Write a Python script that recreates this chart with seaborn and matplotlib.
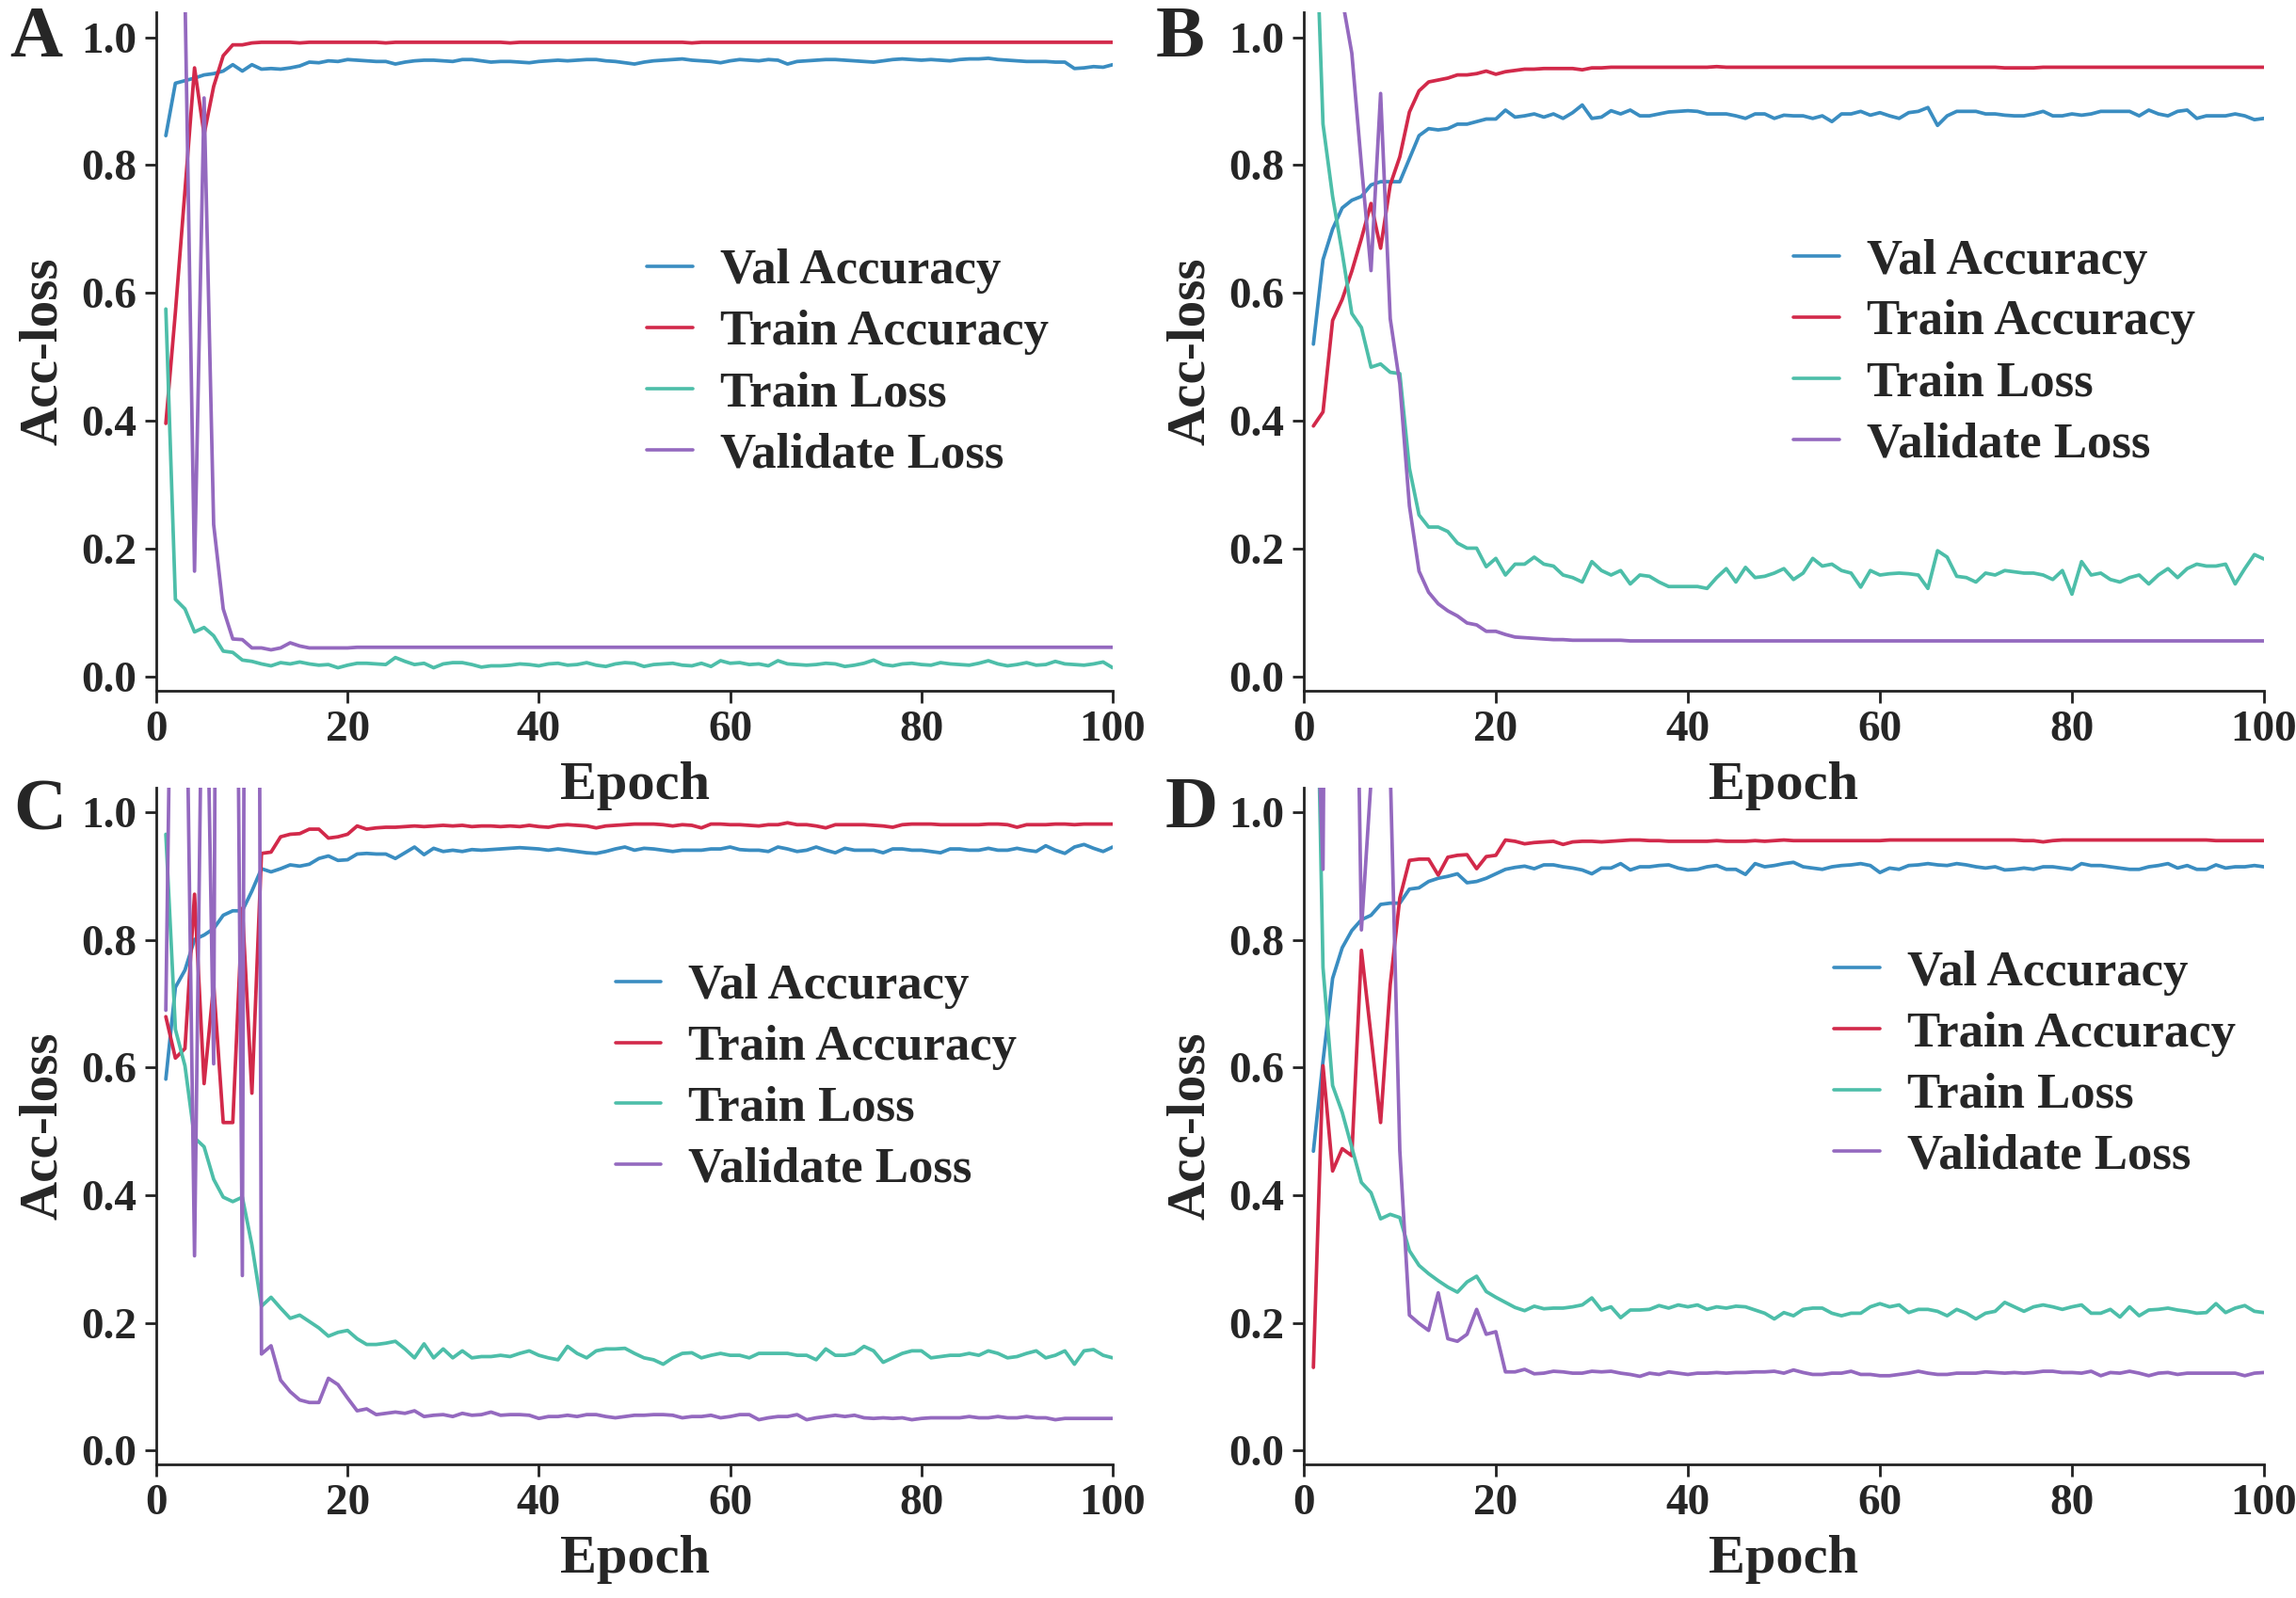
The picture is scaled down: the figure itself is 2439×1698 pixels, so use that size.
import numpy as np
import pandas as pd
import matplotlib
matplotlib.use("Agg")
import matplotlib.pyplot as plt
import seaborn as sns

epochs = list(range(1, 101))
series_names = ["Val Accuracy", "Train Accuracy", "Train Loss", "Validate Loss"]
panel_labels = ["A", "B", "C", "D"]
x_ticks = [0, 20, 40, 60, 80, 100]
y_ticks = [0.0, 0.2, 0.4, 0.6, 0.8, 1.0]

# ---------------- Panel A ----------------
A_val_acc = [0.846, 0.928, 0.932, 0.936, 0.941, 0.943, 0.947, 0.957, 0.947, 0.957,
             0.950, 0.951, 0.950, 0.952, 0.955, 0.961, 0.960, 0.963, 0.962, 0.965,
             0.964, 0.963, 0.962, 0.962, 0.958, 0.961, 0.963, 0.964, 0.964, 0.963,
             0.962, 0.965, 0.965, 0.963, 0.961, 0.962, 0.962, 0.961, 0.960, 0.962,
             0.963, 0.964, 0.963, 0.964, 0.965, 0.965, 0.963, 0.962, 0.960, 0.958,
             0.961, 0.963, 0.964, 0.965, 0.966, 0.964, 0.963, 0.962, 0.960, 0.963,
             0.965, 0.964, 0.963, 0.965, 0.964, 0.958, 0.962, 0.963, 0.964, 0.965,
             0.965, 0.964, 0.963, 0.962, 0.961, 0.963, 0.965, 0.966, 0.965, 0.964,
             0.965, 0.964, 0.963, 0.965, 0.966, 0.966, 0.967, 0.965, 0.964, 0.963,
             0.962, 0.962, 0.962, 0.961, 0.961, 0.951, 0.952, 0.954, 0.953, 0.957]
A_train_acc = [0.396, 0.570, 0.760, 0.952, 0.848, 0.923, 0.971, 0.988, 0.988, 0.991,
               0.992, 0.992, 0.992, 0.992, 0.991, 0.992, 0.992, 0.992, 0.992, 0.992,
               0.992, 0.992, 0.992, 0.991, 0.992, 0.992, 0.992, 0.992, 0.992, 0.992,
               0.992, 0.992, 0.992, 0.992, 0.992, 0.992, 0.991, 0.992, 0.992, 0.992,
               0.992, 0.992, 0.992, 0.992, 0.992, 0.992, 0.992, 0.992, 0.992, 0.992,
               0.992, 0.992, 0.992, 0.992, 0.992, 0.991, 0.992, 0.992, 0.992, 0.992,
               0.992, 0.992, 0.992, 0.992, 0.992, 0.992, 0.992, 0.992, 0.992, 0.992,
               0.992, 0.992, 0.992, 0.992, 0.992, 0.992, 0.992, 0.992, 0.992, 0.992,
               0.992, 0.992, 0.992, 0.992, 0.992, 0.992, 0.992, 0.992, 0.992, 0.992,
               0.992, 0.992, 0.992, 0.992, 0.992, 0.992, 0.992, 0.992, 0.992, 0.992]
A_train_loss = [0.575, 0.121, 0.106, 0.070, 0.077, 0.064, 0.040, 0.038, 0.026, 0.024,
                0.020, 0.017, 0.022, 0.020, 0.023, 0.020, 0.018, 0.019, 0.014, 0.018,
                0.021, 0.021, 0.020, 0.019, 0.030, 0.024, 0.019, 0.021, 0.014, 0.020,
                0.022, 0.022, 0.019, 0.015, 0.017, 0.017, 0.018, 0.020, 0.019, 0.017,
                0.020, 0.021, 0.018, 0.019, 0.022, 0.018, 0.016, 0.020, 0.022, 0.021,
                0.016, 0.019, 0.020, 0.021, 0.018, 0.017, 0.021, 0.016, 0.025, 0.021,
                0.022, 0.019, 0.020, 0.017, 0.025, 0.020, 0.019, 0.018, 0.019, 0.021,
                0.020, 0.016, 0.018, 0.021, 0.026, 0.019, 0.017, 0.020, 0.021, 0.019,
                0.018, 0.022, 0.020, 0.019, 0.018, 0.021, 0.025, 0.020, 0.017, 0.019,
                0.022, 0.018, 0.019, 0.024, 0.020, 0.019, 0.018, 0.020, 0.023, 0.014]
A_val_loss = [1.350, 1.200, 1.070, 0.165, 0.905, 0.238, 0.106, 0.059, 0.058, 0.045,
              0.045, 0.042, 0.045, 0.053, 0.048, 0.045, 0.045, 0.045, 0.045, 0.045,
              0.046, 0.046, 0.046, 0.046, 0.046, 0.046, 0.046, 0.046, 0.046, 0.046,
              0.046, 0.046, 0.046, 0.046, 0.046, 0.046, 0.046, 0.046, 0.046, 0.046,
              0.046, 0.046, 0.046, 0.046, 0.046, 0.046, 0.046, 0.046, 0.046, 0.046,
              0.046, 0.046, 0.046, 0.046, 0.046, 0.046, 0.046, 0.046, 0.046, 0.046,
              0.046, 0.046, 0.046, 0.046, 0.046, 0.046, 0.046, 0.046, 0.046, 0.046,
              0.046, 0.046, 0.046, 0.046, 0.046, 0.046, 0.046, 0.046, 0.046, 0.046,
              0.046, 0.046, 0.046, 0.046, 0.046, 0.046, 0.046, 0.046, 0.046, 0.046,
              0.046, 0.046, 0.046, 0.046, 0.046, 0.046, 0.046, 0.046, 0.046, 0.046]

# ---------------- Panel B ----------------
B_val_acc = [0.520, 0.652, 0.700, 0.733, 0.745, 0.751, 0.769, 0.774, 0.774, 0.774,
             0.810, 0.846, 0.857, 0.855, 0.857, 0.864, 0.864, 0.868, 0.872, 0.872,
             0.886, 0.875, 0.877, 0.880, 0.875, 0.880, 0.873, 0.882, 0.894, 0.873,
             0.875, 0.885, 0.880, 0.886, 0.877, 0.877, 0.880, 0.883, 0.884, 0.885,
             0.884, 0.880, 0.880, 0.880, 0.877, 0.873, 0.880, 0.880, 0.873, 0.878,
             0.877, 0.877, 0.873, 0.877, 0.868, 0.880, 0.880, 0.884, 0.878, 0.882,
             0.877, 0.873, 0.882, 0.884, 0.890, 0.862, 0.877, 0.884, 0.884, 0.884,
             0.880, 0.880, 0.878, 0.877, 0.877, 0.880, 0.884, 0.877, 0.877, 0.880,
             0.878, 0.880, 0.884, 0.884, 0.884, 0.884, 0.877, 0.886, 0.880, 0.877,
             0.884, 0.886, 0.873, 0.877, 0.877, 0.877, 0.880, 0.877, 0.871, 0.873]
B_train_acc = [0.392, 0.414, 0.557, 0.590, 0.634, 0.685, 0.740, 0.670, 0.769, 0.813,
               0.883, 0.916, 0.930, 0.933, 0.936, 0.941, 0.941, 0.943, 0.947, 0.942,
               0.946, 0.948, 0.950, 0.950, 0.951, 0.951, 0.951, 0.951, 0.949, 0.952,
               0.952, 0.953, 0.953, 0.953, 0.953, 0.953, 0.953, 0.953, 0.953, 0.953,
               0.953, 0.953, 0.954, 0.953, 0.953, 0.953, 0.953, 0.953, 0.953, 0.953,
               0.953, 0.953, 0.953, 0.953, 0.953, 0.953, 0.953, 0.953, 0.953, 0.953,
               0.953, 0.953, 0.953, 0.953, 0.953, 0.953, 0.953, 0.953, 0.953, 0.953,
               0.953, 0.953, 0.952, 0.952, 0.952, 0.952, 0.953, 0.953, 0.953, 0.953,
               0.953, 0.953, 0.953, 0.953, 0.953, 0.953, 0.953, 0.953, 0.953, 0.953,
               0.953, 0.953, 0.953, 0.953, 0.953, 0.953, 0.953, 0.953, 0.953, 0.953]
B_train_loss = [1.300, 0.864, 0.751, 0.663, 0.568, 0.546, 0.484, 0.489, 0.476, 0.474,
                0.326, 0.253, 0.234, 0.234, 0.227, 0.209, 0.201, 0.201, 0.172, 0.185,
                0.159, 0.176, 0.176, 0.187, 0.176, 0.173, 0.159, 0.155, 0.148, 0.180,
                0.166, 0.159, 0.166, 0.145, 0.159, 0.157, 0.148, 0.141, 0.141, 0.141,
                0.141, 0.138, 0.155, 0.169, 0.148, 0.171, 0.155, 0.157, 0.162, 0.169,
                0.152, 0.162, 0.185, 0.173, 0.176, 0.166, 0.162, 0.140, 0.166, 0.159,
                0.161, 0.162, 0.161, 0.159, 0.138, 0.197, 0.187, 0.157, 0.155, 0.148,
                0.162, 0.159, 0.166, 0.164, 0.162, 0.162, 0.159, 0.152, 0.166, 0.129,
                0.180, 0.159, 0.162, 0.152, 0.148, 0.155, 0.159, 0.145, 0.159, 0.169,
                0.155, 0.169, 0.176, 0.173, 0.173, 0.176, 0.145, 0.169, 0.191, 0.184]
B_val_loss = [1.600, 1.400, 1.200, 1.060, 0.975, 0.800, 0.635, 0.912, 0.560, 0.458,
              0.267, 0.165, 0.132, 0.114, 0.103, 0.095, 0.084, 0.081, 0.071, 0.071,
              0.066, 0.062, 0.061, 0.060, 0.059, 0.058, 0.058, 0.057, 0.057, 0.057,
              0.057, 0.057, 0.057, 0.056, 0.056, 0.056, 0.056, 0.056, 0.056, 0.056,
              0.056, 0.056, 0.056, 0.056, 0.056, 0.056, 0.056, 0.056, 0.056, 0.056,
              0.056, 0.056, 0.056, 0.056, 0.056, 0.056, 0.056, 0.056, 0.056, 0.056,
              0.056, 0.056, 0.056, 0.056, 0.056, 0.056, 0.056, 0.056, 0.056, 0.056,
              0.056, 0.056, 0.056, 0.056, 0.056, 0.056, 0.056, 0.056, 0.056, 0.056,
              0.056, 0.056, 0.056, 0.056, 0.056, 0.056, 0.056, 0.056, 0.056, 0.056,
              0.056, 0.056, 0.056, 0.056, 0.056, 0.056, 0.056, 0.056, 0.056, 0.056]

# ---------------- Panel C ----------------
C_val_acc = [0.582, 0.726, 0.753, 0.801, 0.808, 0.818, 0.839, 0.846, 0.846, 0.877,
             0.912, 0.907, 0.912, 0.918, 0.916, 0.919, 0.928, 0.932, 0.925, 0.926,
             0.935, 0.936, 0.935, 0.935, 0.928, 0.937, 0.946, 0.934, 0.944, 0.939,
             0.941, 0.939, 0.942, 0.941, 0.942, 0.943, 0.944, 0.945, 0.944, 0.943,
             0.941, 0.943, 0.941, 0.939, 0.937, 0.936, 0.939, 0.943, 0.946, 0.941,
             0.944, 0.943, 0.941, 0.939, 0.941, 0.941, 0.941, 0.943, 0.943, 0.946,
             0.942, 0.941, 0.941, 0.939, 0.946, 0.943, 0.939, 0.941, 0.946, 0.941,
             0.937, 0.944, 0.941, 0.941, 0.941, 0.937, 0.943, 0.943, 0.941, 0.941,
             0.939, 0.937, 0.943, 0.943, 0.941, 0.941, 0.944, 0.941, 0.941, 0.944,
             0.941, 0.939, 0.948, 0.941, 0.936, 0.946, 0.950, 0.944, 0.939, 0.946]
C_train_acc = [0.680, 0.615, 0.630, 0.872, 0.575, 0.730, 0.514, 0.514, 0.850, 0.560,
               0.936, 0.938, 0.962, 0.966, 0.967, 0.974, 0.974, 0.960, 0.962, 0.966,
               0.979, 0.974, 0.976, 0.977, 0.977, 0.978, 0.979, 0.978, 0.979, 0.980,
               0.979, 0.980, 0.978, 0.979, 0.979, 0.978, 0.979, 0.978, 0.980, 0.978,
               0.977, 0.980, 0.981, 0.980, 0.979, 0.976, 0.979, 0.980, 0.981, 0.982,
               0.982, 0.982, 0.981, 0.979, 0.981, 0.980, 0.976, 0.982, 0.982, 0.981,
               0.981, 0.980, 0.979, 0.981, 0.981, 0.984, 0.981, 0.981, 0.979, 0.976,
               0.981, 0.981, 0.981, 0.981, 0.980, 0.979, 0.977, 0.981, 0.982, 0.982,
               0.982, 0.981, 0.981, 0.981, 0.981, 0.981, 0.982, 0.982, 0.981, 0.977,
               0.981, 0.981, 0.981, 0.982, 0.982, 0.981, 0.982, 0.982, 0.982, 0.982]
C_train_loss = [0.966, 0.660, 0.603, 0.490, 0.476, 0.425, 0.397, 0.390, 0.397, 0.322,
                0.226, 0.240, 0.223, 0.207, 0.212, 0.202, 0.192, 0.179, 0.185, 0.188,
                0.175, 0.166, 0.166, 0.168, 0.171, 0.159, 0.145, 0.167, 0.145, 0.159,
                0.145, 0.156, 0.145, 0.147, 0.147, 0.149, 0.147, 0.152, 0.156, 0.149,
                0.145, 0.142, 0.163, 0.152, 0.145, 0.156, 0.159, 0.159, 0.160, 0.152,
                0.145, 0.142, 0.135, 0.145, 0.152, 0.153, 0.145, 0.149, 0.152, 0.149,
                0.149, 0.145, 0.152, 0.152, 0.152, 0.152, 0.149, 0.149, 0.142, 0.159,
                0.149, 0.149, 0.152, 0.163, 0.156, 0.138, 0.145, 0.152, 0.156, 0.156,
                0.145, 0.147, 0.149, 0.149, 0.152, 0.149, 0.156, 0.152, 0.145, 0.147,
                0.152, 0.156, 0.145, 0.149, 0.156, 0.135, 0.156, 0.158, 0.149, 0.145]
C_val_loss = [0.690, 1.800, 1.400, 0.305, 1.500, 0.606, 4.000, 2.200, 0.274, 5.000,
              0.151, 0.164, 0.110, 0.092, 0.079, 0.075, 0.075, 0.113, 0.103, 0.082,
              0.062, 0.065, 0.056, 0.058, 0.060, 0.058, 0.062, 0.053, 0.055, 0.056,
              0.053, 0.058, 0.055, 0.056, 0.060, 0.055, 0.056, 0.056, 0.055, 0.050,
              0.053, 0.053, 0.055, 0.053, 0.056, 0.056, 0.053, 0.051, 0.053, 0.055,
              0.055, 0.056, 0.056, 0.055, 0.051, 0.053, 0.053, 0.055, 0.051, 0.053,
              0.056, 0.056, 0.048, 0.051, 0.053, 0.053, 0.056, 0.048, 0.051, 0.053,
              0.055, 0.053, 0.055, 0.051, 0.050, 0.051, 0.050, 0.051, 0.048, 0.050,
              0.051, 0.051, 0.051, 0.051, 0.053, 0.051, 0.051, 0.053, 0.051, 0.051,
              0.053, 0.051, 0.051, 0.048, 0.050, 0.050, 0.050, 0.050, 0.050, 0.050]

# ---------------- Panel D ----------------
D_val_acc = [0.469, 0.610, 0.740, 0.788, 0.815, 0.832, 0.839, 0.856, 0.858, 0.858,
             0.880, 0.882, 0.892, 0.897, 0.900, 0.904, 0.890, 0.892, 0.897, 0.904,
             0.911, 0.914, 0.916, 0.912, 0.918, 0.918, 0.915, 0.913, 0.910, 0.904,
             0.913, 0.913, 0.920, 0.910, 0.915, 0.915, 0.917, 0.918, 0.913, 0.910,
             0.911, 0.915, 0.917, 0.911, 0.911, 0.903, 0.920, 0.915, 0.917, 0.920,
             0.922, 0.915, 0.913, 0.911, 0.915, 0.917, 0.918, 0.920, 0.917, 0.906,
             0.913, 0.911, 0.917, 0.918, 0.920, 0.918, 0.917, 0.920, 0.918, 0.915,
             0.913, 0.915, 0.910, 0.911, 0.913, 0.911, 0.915, 0.915, 0.913, 0.911,
             0.920, 0.917, 0.917, 0.915, 0.913, 0.911, 0.911, 0.915, 0.917, 0.920,
             0.913, 0.917, 0.911, 0.911, 0.918, 0.913, 0.915, 0.915, 0.917, 0.915]
D_train_acc = [0.130, 0.603, 0.438, 0.473, 0.462, 0.784, 0.650, 0.514, 0.730, 0.866,
               0.925, 0.927, 0.927, 0.902, 0.930, 0.933, 0.934, 0.912, 0.931, 0.933,
               0.957, 0.955, 0.951, 0.953, 0.954, 0.955, 0.950, 0.954, 0.955, 0.955,
               0.954, 0.955, 0.956, 0.957, 0.957, 0.956, 0.956, 0.955, 0.955, 0.955,
               0.955, 0.955, 0.956, 0.955, 0.955, 0.955, 0.956, 0.955, 0.956, 0.957,
               0.956, 0.956, 0.956, 0.956, 0.956, 0.956, 0.956, 0.956, 0.956, 0.956,
               0.957, 0.957, 0.957, 0.957, 0.957, 0.957, 0.957, 0.957, 0.957, 0.957,
               0.957, 0.957, 0.957, 0.957, 0.956, 0.956, 0.954, 0.956, 0.957, 0.957,
               0.957, 0.957, 0.957, 0.957, 0.957, 0.957, 0.957, 0.957, 0.957, 0.957,
               0.957, 0.957, 0.957, 0.957, 0.956, 0.956, 0.956, 0.956, 0.956, 0.956]
D_train_loss = [1.530, 0.757, 0.572, 0.530, 0.475, 0.420, 0.404, 0.363, 0.370, 0.365,
                0.313, 0.290, 0.277, 0.266, 0.256, 0.248, 0.264, 0.273, 0.249, 0.240,
                0.232, 0.224, 0.219, 0.226, 0.222, 0.223, 0.223, 0.225, 0.228, 0.239,
                0.220, 0.225, 0.208, 0.220, 0.220, 0.221, 0.227, 0.223, 0.228, 0.225,
                0.228, 0.221, 0.225, 0.223, 0.226, 0.225, 0.220, 0.215, 0.206, 0.216,
                0.211, 0.221, 0.223, 0.223, 0.215, 0.211, 0.215, 0.215, 0.225, 0.230,
                0.225, 0.228, 0.216, 0.221, 0.221, 0.218, 0.211, 0.221, 0.215, 0.206,
                0.215, 0.218, 0.232, 0.225, 0.218, 0.225, 0.228, 0.225, 0.221, 0.225,
                0.228, 0.215, 0.215, 0.221, 0.209, 0.225, 0.211, 0.220, 0.221, 0.223,
                0.220, 0.218, 0.215, 0.216, 0.230, 0.216, 0.223, 0.227, 0.218, 0.216]
D_val_loss = [1.340, 0.911, 3.000, 2.500, 1.790, 0.816, 1.050, 1.300, 1.070, 0.470,
              0.212, 0.199, 0.188, 0.247, 0.175, 0.171, 0.182, 0.221, 0.182, 0.186,
              0.123, 0.123, 0.127, 0.120, 0.121, 0.124, 0.123, 0.121, 0.121, 0.124,
              0.123, 0.124, 0.121, 0.119, 0.116, 0.121, 0.119, 0.123, 0.121, 0.119,
              0.121, 0.121, 0.122, 0.121, 0.122, 0.122, 0.123, 0.123, 0.124, 0.121,
              0.126, 0.122, 0.119, 0.119, 0.121, 0.121, 0.124, 0.119, 0.119, 0.117,
              0.117, 0.119, 0.121, 0.124, 0.121, 0.119, 0.119, 0.121, 0.121, 0.121,
              0.123, 0.122, 0.121, 0.122, 0.121, 0.122, 0.124, 0.124, 0.122, 0.122,
              0.121, 0.124, 0.117, 0.122, 0.121, 0.124, 0.121, 0.117, 0.121, 0.122,
              0.119, 0.121, 0.121, 0.121, 0.121, 0.121, 0.121, 0.117, 0.121, 0.122]

panels = {
    "A": [A_val_acc, A_train_acc, A_train_loss, A_val_loss],
    "B": [B_val_acc, B_train_acc, B_train_loss, B_val_loss],
    "C": [C_val_acc, C_train_acc, C_train_loss, C_val_loss],
    "D": [D_val_acc, D_train_acc, D_train_loss, D_val_loss],
}

palette = {
    "Val Accuracy": "#3a8dc1",
    "Train Accuracy": "#d2294a",
    "Train Loss": "#4dbea9",
    "Validate Loss": "#9469bf",
}

sns.set_theme(style="ticks")
plt.rcParams["font.family"] = ["Liberation Serif", "DejaVu Serif"]
plt.rcParams["font.weight"] = "bold"
plt.rcParams["axes.labelweight"] = "bold"

W, H = 2439, 1698
fig = plt.figure(figsize=(W / 100, H / 100), dpi=100)

# axes rectangles in pixel coordinates: left, right, top, bottom
rects = {
    "A": (166, 1182, 13, 734),
    "B": (1385, 2405, 13, 734),
    "C": (166, 1182, 837, 1556),
    "D": (1385, 2405, 837, 1556),
}
legend_pos = {"A": (0.513, 0.483), "B": (0.51, 0.498), "C": (0.48, 0.571), "D": (0.552, 0.591)}
letter_pos = {"A": (10, 60), "B": (1228, 60), "C": (14, 881), "D": (1238, 879)}

for key in panel_labels:
    l, r, t, b = rects[key]
    ax = fig.add_axes([l / W, 1 - b / H, (r - l) / W, (b - t) / H])
    ax.patch.set_alpha(0.0)
    rows = []
    for name, vals in zip(series_names, panels[key]):
        for e, v in zip(epochs, vals):
            rows.append((e, v, name))
    df = pd.DataFrame(rows, columns=["Epoch", "value", "series"])
    sns.lineplot(data=df, x="Epoch", y="value", hue="series", hue_order=series_names,
                 palette=palette, linewidth=2.7, errorbar=None, ax=ax, legend=True)
    ax.set_xlim(0, 100)
    ax.set_ylim(-0.022, 1.039)
    ax.set_xticks(x_ticks)
    ax.set_yticks(y_ticks)
    ax.set_yticklabels([f"{v:.1f}" for v in y_ticks])
    for s in ["top", "right"]:
        ax.spines[s].set_visible(False)
    for s in ["left", "bottom"]:
        ax.spines[s].set_linewidth(2.0)
        ax.spines[s].set_color("#222222")
    ax.tick_params(axis="both", direction="out", length=9, width=2.0, color="#222222",
                   labelsize=34, pad=6)
    for lab in ax.get_xticklabels() + ax.get_yticklabels():
        lab.set_fontweight("bold")
    ax.set_xlabel("Epoch", fontsize=42, fontweight="bold", labelpad=9)
    ax.set_ylabel("Acc-loss", fontsize=41, fontweight="bold", labelpad=10)
    handles, labels = ax.get_legend_handles_labels()
    leg = ax.legend(handles, labels, loc="center left", bbox_to_anchor=legend_pos[key],
                    frameon=False, handlelength=0.92, handletextpad=0.55,
                    labelspacing=0.32, borderpad=0, borderaxespad=0,
                    prop={"weight": "bold", "size": 38})
    for lh in leg.get_lines():
        lh.set_linewidth(2.6)
    lx, ly = letter_pos[key]
    fig.text(lx / W, 1 - ly / H, key, fontsize=56, fontweight="bold", ha="left", va="baseline")

fig.savefig("out.png", dpi=100)
